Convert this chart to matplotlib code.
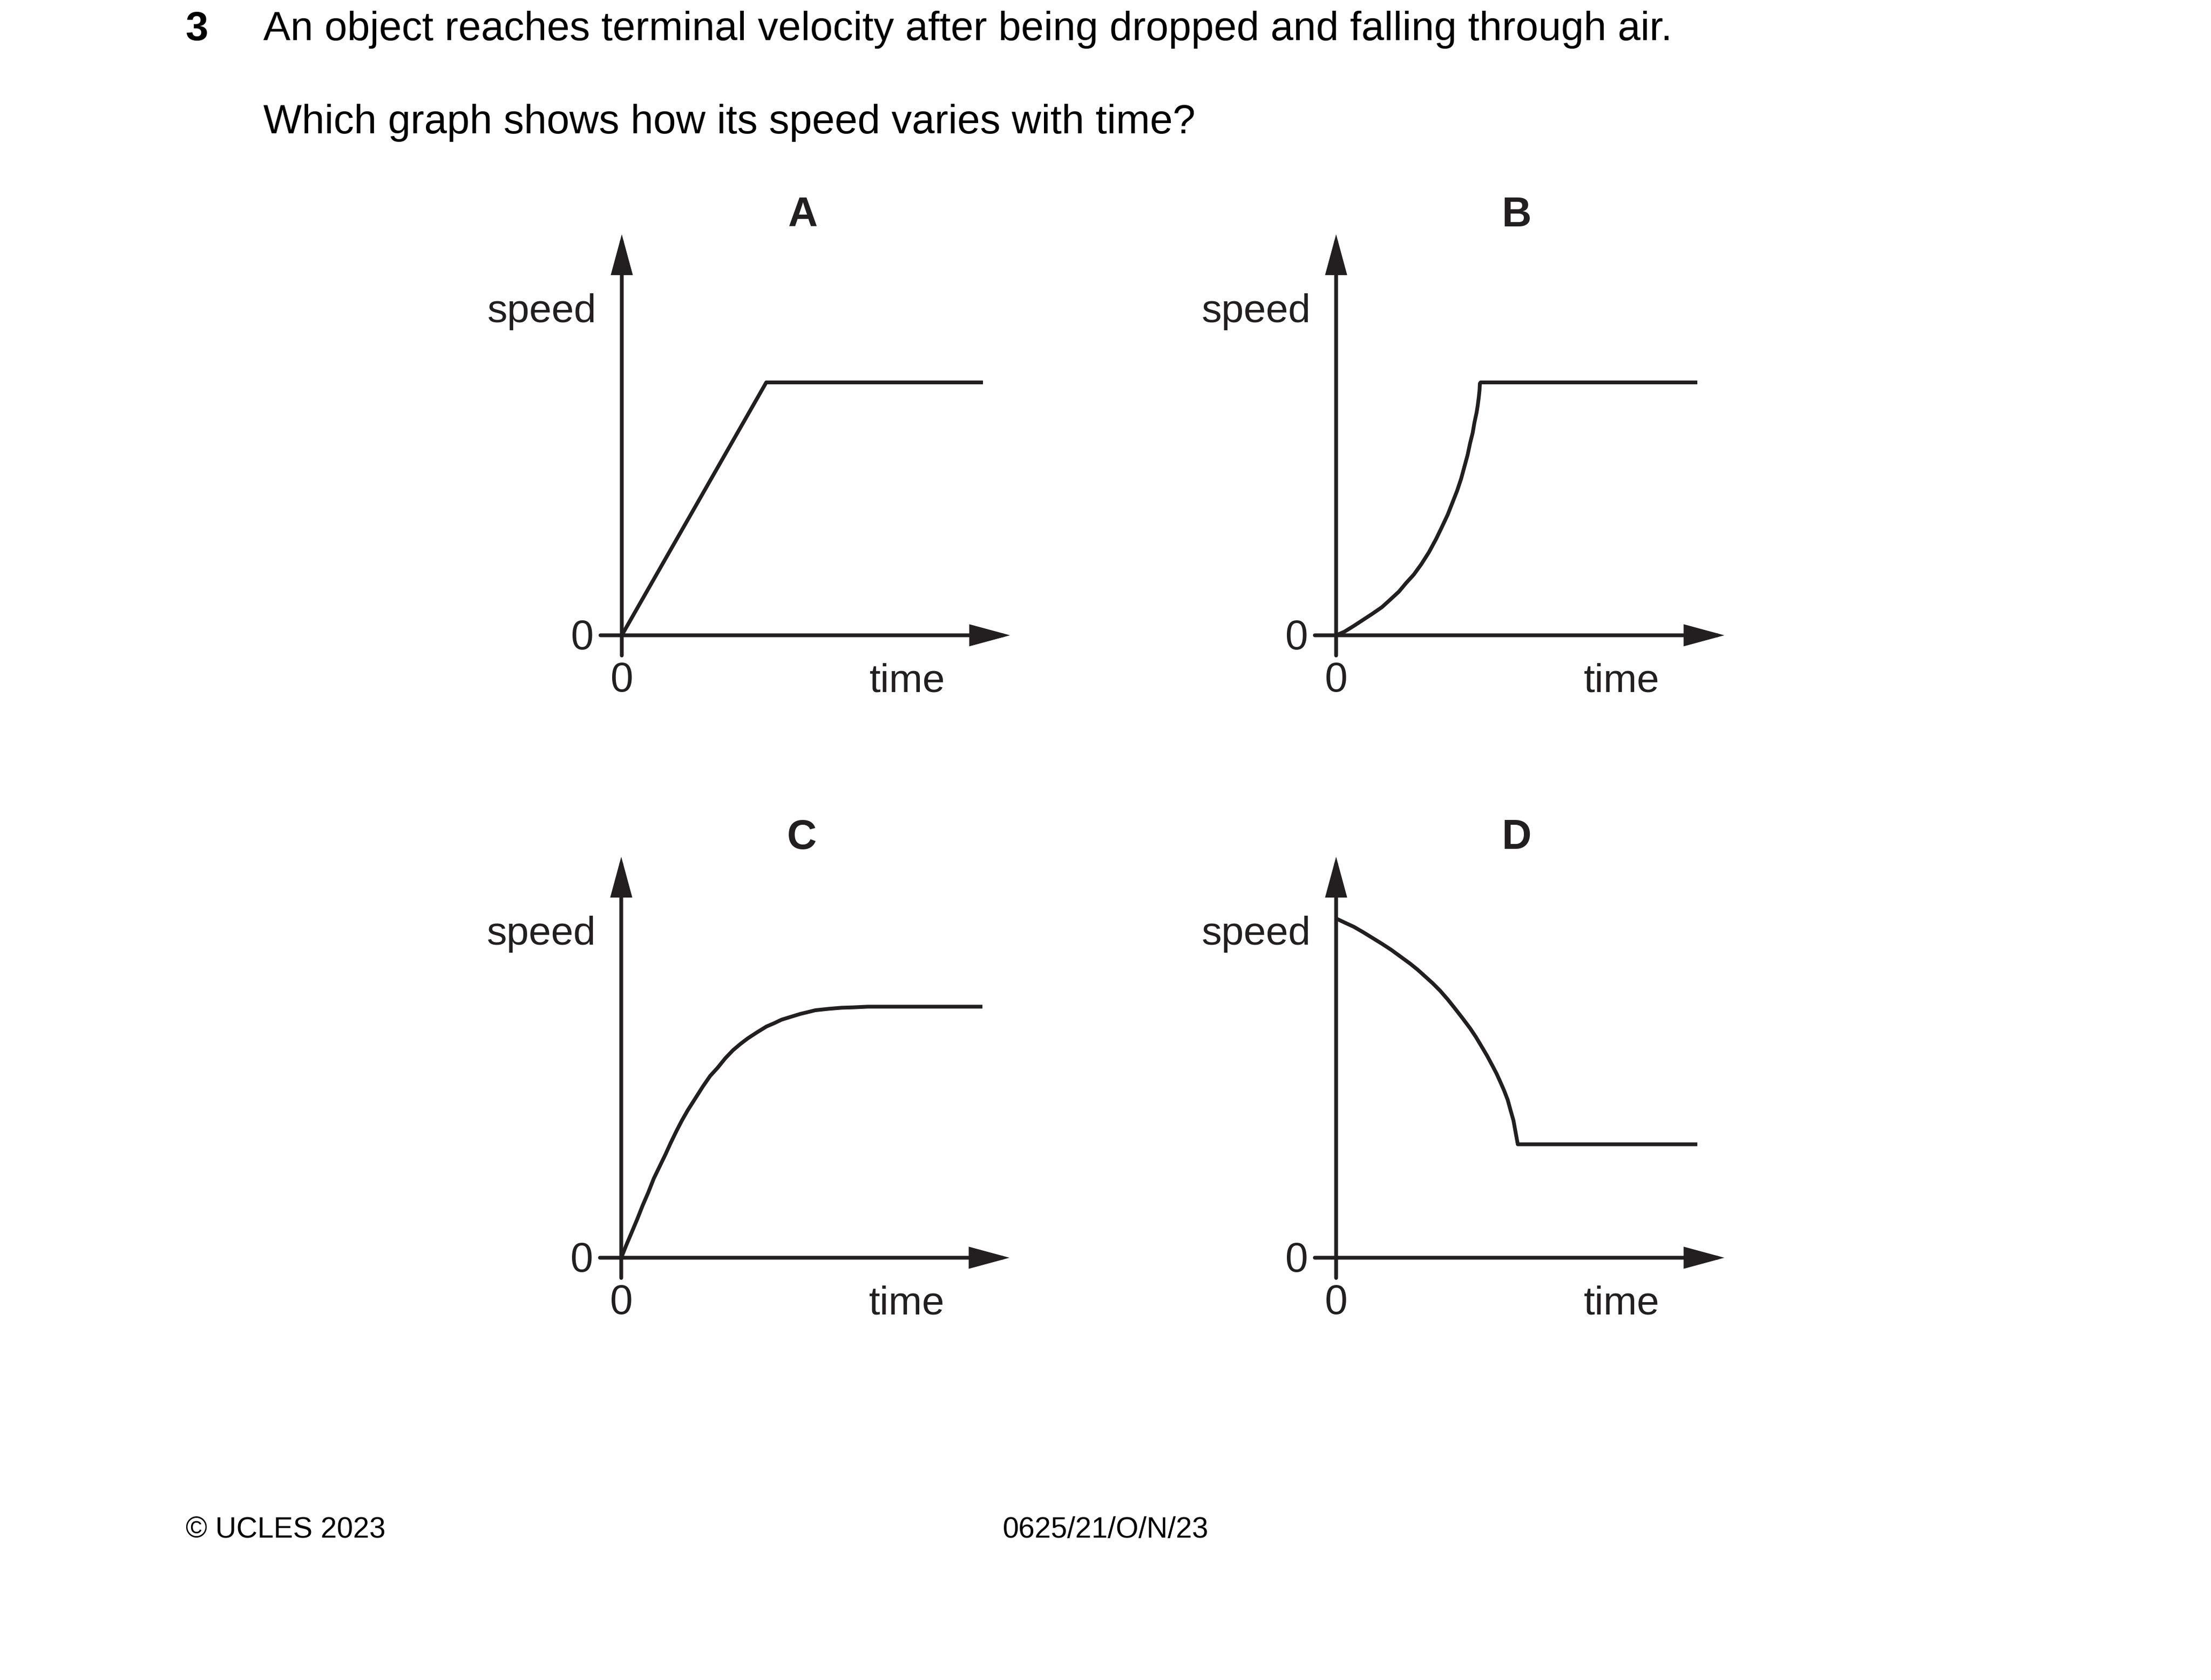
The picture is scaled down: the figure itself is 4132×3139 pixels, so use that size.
import matplotlib
matplotlib.use("Agg")
import matplotlib.pyplot as plt

plt.rcParams['font.family'] = ['Liberation Sans', 'DejaVu Sans']

# page size in pixels, and pixels per data unit in each little graph
W, H = 4132, 3139
DPI = 300
U = 67.5
INK = '#231f20'
LW = 1.7

# --- data (time, speed in arbitrary units) ---
time_a = [0, 4.0, 10.0]
speed_a = [0, 7.0, 7.0]

time_b = [0, 0.23, 0.49, 0.75, 1.01, 1.27, 1.48, 1.74, 1.94, 2.15, 2.36, 2.57, 2.77, 2.93,
          3.09, 3.22, 3.35, 3.46, 3.55, 3.64, 3.71, 3.78, 3.83, 3.89, 3.92, 3.95, 3.97, 3.98,
          4.0, 10.0]
speed_b = [0, 0.10, 0.26, 0.43, 0.60, 0.78, 0.97, 1.21, 1.45, 1.68, 1.97, 2.30, 2.67, 3.00,
           3.34, 3.67, 4.00, 4.33, 4.66, 4.99, 5.32, 5.60, 5.89, 6.17, 6.36, 6.59, 6.78, 6.97,
           7.0, 7.0]

time_c = [0, 0.14, 0.28, 0.44, 0.59, 0.75, 0.90, 1.06, 1.22, 1.37, 1.53, 1.68, 1.84, 2.05,
          2.26, 2.46, 2.67, 2.88, 3.09, 3.29, 3.50, 3.76, 4.02, 4.23, 4.44, 4.70, 4.96, 5.17,
          5.37, 5.74, 6.10, 6.41, 6.83, 7.35, 10.0]
speed_c = [0, 0.35, 0.68, 1.06, 1.44, 1.81, 2.19, 2.52, 2.85, 3.18, 3.51, 3.80, 4.08, 4.41,
           4.74, 5.03, 5.26, 5.52, 5.74, 5.91, 6.07, 6.24, 6.40, 6.49, 6.59, 6.67, 6.75, 6.80,
           6.85, 6.89, 6.92, 6.93, 6.95, 6.95, 6.95]

time_d = [0, 0.23, 0.49, 0.75, 1.01, 1.27, 1.53, 1.79, 2.05, 2.26, 2.46, 2.67, 2.88, 3.09,
          3.29, 3.50, 3.71, 3.87, 4.02, 4.18, 4.33, 4.44, 4.54, 4.65, 4.75, 4.83, 4.91, 4.97,
          5.03, 10.0]
speed_d = [9.39, 9.28, 9.16, 9.01, 8.85, 8.69, 8.52, 8.33, 8.14, 7.97, 7.79, 7.60, 7.39, 7.15,
           6.90, 6.63, 6.35, 6.11, 5.86, 5.59, 5.31, 5.10, 4.88, 4.63, 4.37, 4.08, 3.80, 3.47,
           3.14, 3.14]

letters = ['A', 'B', 'C', 'D']
curves = [(time_a, speed_a), (time_b, speed_b), (time_c, speed_c), (time_d, speed_d)]
# origin of each graph on the page, pixels from top-left
origins = [(1162, 1187), (2497, 1187), (1161, 2350), (2497, 2350)]

fig = plt.figure(figsize=(W / DPI, H / DPI), dpi=DPI)
fig.patch.set_facecolor('white')

LO, HI = -1.5, 11.5
arrow = dict(arrowstyle='-|>,head_length=1.42,head_width=0.385', mutation_scale=10,
             color=INK, lw=LW, shrinkA=0, shrinkB=0, joinstyle='miter')

for letter, (t, s), (ox, oy) in zip(letters, curves, origins):
    left = (ox + LO * U) / W
    bottom = (H - (oy - LO * U)) / H
    ax = fig.add_axes([left, bottom, (HI - LO) * U / W, (HI - LO) * U / H])
    ax.set_xlim(LO, HI)
    ax.set_ylim(LO, HI)
    ax.axis('off')

    # axes with arrow heads
    ax.annotate('', xy=(10.75, 0), xytext=(-0.59, 0), arrowprops=arrow)
    ax.annotate('', xy=(0, 11.1), xytext=(0, -0.56), arrowprops=arrow)

    ax.plot(t, s, color=INK, lw=LW, solid_joinstyle='round', solid_capstyle='butt')

    ax.text(5.0, 11.32, letter, ha='center', va='baseline', fontsize=18.4,
            fontweight='bold', color=INK)
    ax.text(-0.70, 8.67, 'speed', ha='right', va='baseline', fontsize=18, color=INK)
    ax.text(-0.77, -0.385, '0', ha='right', va='baseline', fontsize=18.4, color=INK)
    ax.text(0, -1.556, '0', ha='center', va='baseline', fontsize=18.4, color=INK)
    ax.text(7.9, -1.556, 'time', ha='center', va='baseline', fontsize=18, color=INK)

# question text
fig.text(346 / W, 1 - 75 / H, '3', fontsize=18.3, fontweight='bold', va='baseline', color='black')
fig.text(492 / W, 1 - 75 / H,
         'An object reaches terminal velocity after being dropped and falling through air.',
         fontsize=18.3, va='baseline', color='black')
fig.text(492 / W, 1 - 249 / H, 'Which graph shows how its speed varies with time?',
         fontsize=18.3, va='baseline', color='black')

# footer
fig.text(347 / W, 1 - 2873 / H, '\u00a9 UCLES 2023', fontsize=13.1, va='baseline', color='black')
fig.text(1874 / W, 1 - 2873 / H, '0625/21/O/N/23', fontsize=13.1, va='baseline', color='black')

fig.savefig('out.png', dpi=DPI)
